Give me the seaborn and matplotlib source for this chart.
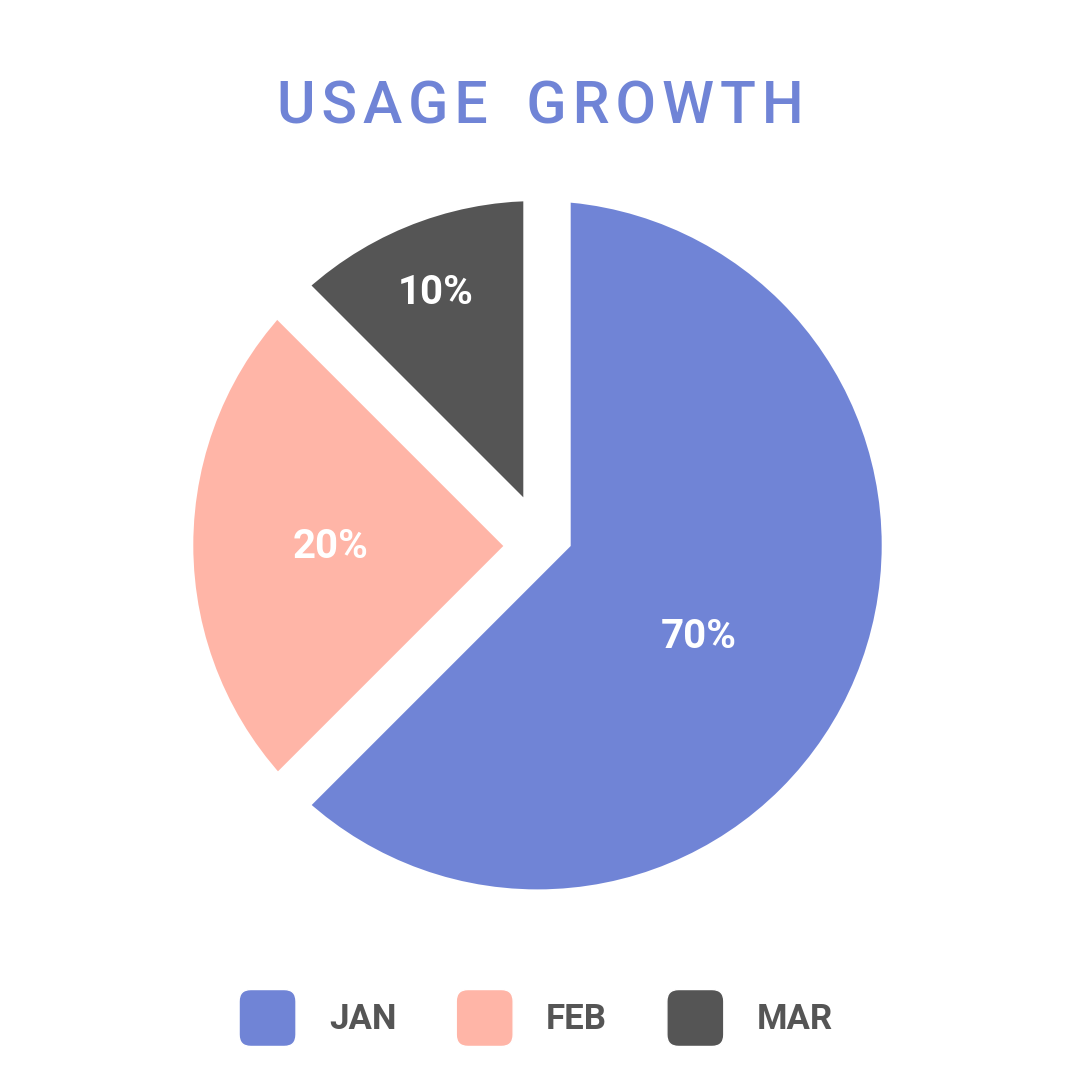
import numpy as np
import matplotlib
matplotlib.use("Agg")
import matplotlib.pyplot as plt
import matplotlib.patches as mpatches
from matplotlib.legend_handler import HandlerPatch
import seaborn as sns

# ---- data ----
months = ["JAN", "FEB", "MAR"]
slice_share = [62.5, 25.0, 12.5]          # wedge sizes as drawn
slice_labels = ["70%", "20%", "10%"]      # printed labels
colors = ["#7084D6", "#FFB5A7", "#555555"]
title = "USAGE GROWTH"

sns.set_theme(style="white")
plt.rcParams["font.family"] = ["Roboto", "DejaVu Sans"]

W = H = 1080
DPI = 100
fig = plt.figure(figsize=(W / DPI, H / DPI), dpi=DPI, facecolor="white")

# pie axes: circle centre at (537.5, 545.2) px from top, visible radius 344.2 px
cx, cy = 537.5, 545.2
S = 800.0
R_px = 344.2
L = S / (2 * R_px)
ax = fig.add_axes([(cx - S / 2) / W, (H - cy - S / 2) / H, S / W, S / H])
ax.axis("off")

wedges, _ = ax.pie(
    slice_share,
    colors=colors,
    startangle=90,
    counterclock=False,
    radius=1.25,
    wedgeprops=dict(linewidth=0, edgecolor="none"),
)
ax.set_xlim(-L, L)
ax.set_ylim(-L, L)
ax.set_aspect("equal")

# slice spacing: shift each wedge apex (px, y up), then clip to the common circle
apex_shift_px = [(33.2, -0.8), (-34.2, -0.8), (-14.2, 47.9)]
clip_circle = mpatches.Circle((0, 0), 1.0, transform=ax.transData)
for w, (dx, dy) in zip(wedges, apex_shift_px):
    w.set_center((dx / R_px, dy / R_px))
    w.set_clip_on(True)
    w.set_clip_path(clip_circle)

label_r = [0.532, 0.601, 0.801]
label_dang = [-6.0, -0.6, -0.9]
for w, txt, r, da in zip(wedges, slice_labels, label_r, label_dang):
    ang = np.deg2rad((w.theta1 + w.theta2) / 2 + da)
    ax.text(r * np.cos(ang), r * np.sin(ang), txt, color="white",
            fontsize=29, fontweight="bold", ha="center", va="center_baseline")

# title with letter tracking
spaced = "\u200a".join(list(title)).replace(" ", "\u2009 ")
fig.text(540 / W, 1 - 123 / H, spaced, color=colors[0], fontsize=42.5,
         fontweight="medium", ha="center", va="baseline")

# legend with rounded squares
def rounded(legend, orig_handle, xdescent, ydescent, width, height, fontsize):
    return mpatches.FancyBboxPatch(
        (-xdescent, -ydescent), width, height,
        boxstyle=mpatches.BoxStyle("Round", pad=0, rounding_size=8.5),
        facecolor=orig_handle.get_facecolor(), edgecolor="none")

handles = [mpatches.Patch(facecolor=c, label=m) for c, m in zip(colors, months)]
leg = fig.legend(handles=handles, loc="center", bbox_to_anchor=(536 / W, 1 - 1018 / H),
                 ncol=3, frameon=False, handlelength=1.64, handleheight=2.146,
                 handletextpad=0.95, columnspacing=1.72,
                 prop=dict(family=["Roboto", "DejaVu Sans"], weight="bold", size=25),
                 handler_map={mpatches.Patch: HandlerPatch(patch_func=rounded)})
for t in leg.get_texts():
    t.set_color("#555555")

fig.savefig("out.png", dpi=DPI, facecolor="white")
